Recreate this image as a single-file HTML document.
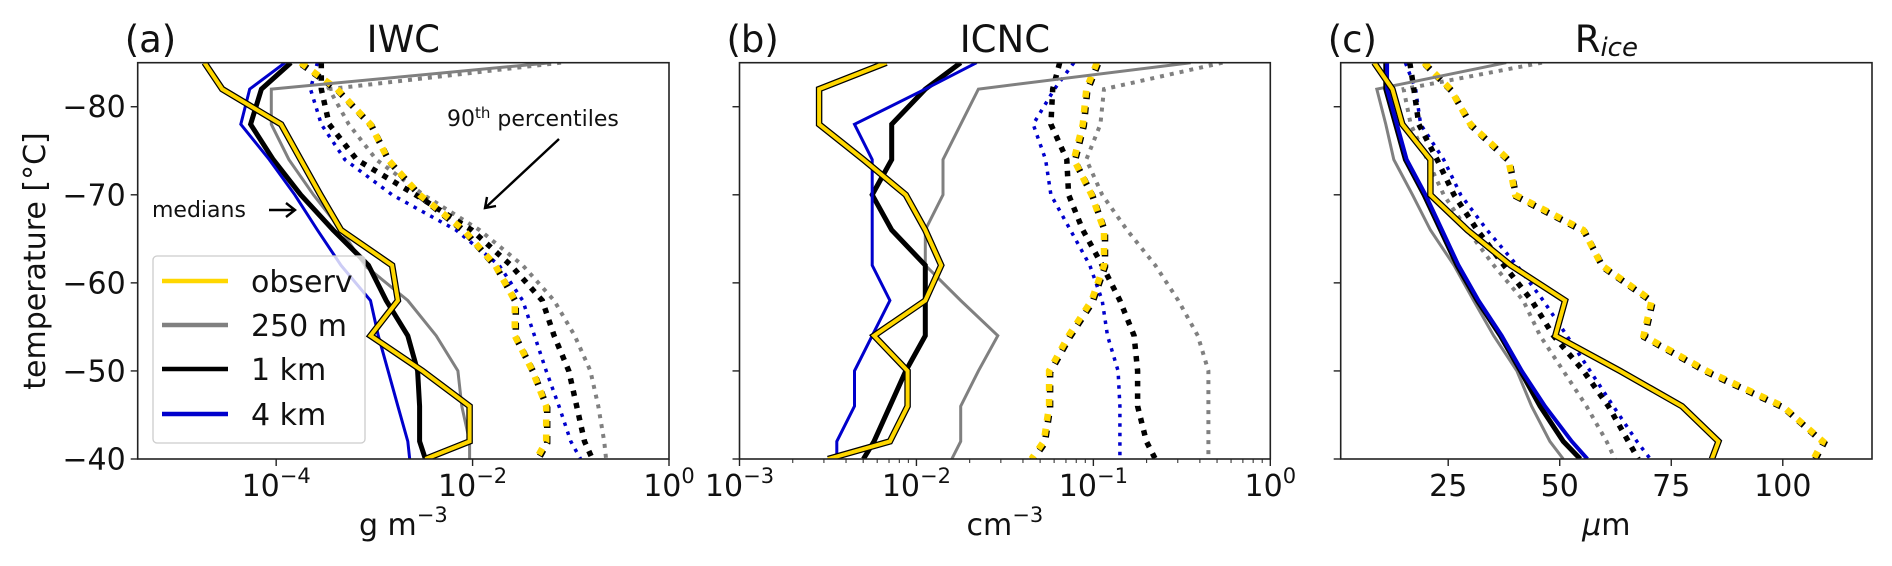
<!DOCTYPE html>
<html><head><meta charset="utf-8"><style>
html,body{margin:0;padding:0;background:#fff;}
svg{display:block;font-family:"DejaVu Sans","Liberation Sans",sans-serif;}
</style></head><body>
<svg id="fig" width="1892" height="566" viewBox="0 0 1892 566" xmlns="http://www.w3.org/2000/svg">
<g id="layer"></g>
</svg>
<script>
// Shared temperature levels (°C)
const temps = [-85,-82,-78,-74,-70,-66,-62,-58,-54,-50,-46,-42,-40];
const yTicks = [-80,-70,-60,-50,-40];
const seriesNames = ["observ","250 m","1 km","4 km"];

// (a) IWC, log10 g m-3 — medians
const iwcObs  = [-4.73,-4.55,-3.95,-3.75,-3.55,-3.34,-2.82,-2.76,-3.04,-2.51,-2.03,-2.03,-2.48];
const iwc250  = [-1.2,-4.05,-4.05,-3.87,-3.62,-3.34,-3.1,-2.66,-2.37,-2.15,-2.11,-2.03,-2.03];
const iwc1k   = [-3.85,-4.15,-4.26,-4.03,-3.75,-3.42,-3.06,-2.88,-2.66,-2.56,-2.54,-2.54,-2.48];
const iwc4k   = [-3.91,-4.27,-4.36,-4.07,-3.81,-3.58,-3.34,-3.04,-2.96,-2.86,-2.76,-2.66,-2.64];
// (a) 90th percentiles
const iwcObsP = [-3.75,-3.38,-3.04,-2.86,-2.54,-2.09,-1.77,-1.57,-1.57,-1.39,-1.25,-1.25,-1.35];
const iwc250P = [-1.1,-3.46,-3.26,-2.98,-2.5,-1.93,-1.49,-1.17,-0.96,-0.8,-0.72,-0.66,-0.64];
const iwc1kP  = [-3.54,-3.54,-3.46,-3.18,-2.58,-2.01,-1.61,-1.29,-1.17,-1.02,-0.94,-0.86,-0.78];
const iwc4kP  = [-3.58,-3.65,-3.54,-3.3,-2.82,-2.17,-1.73,-1.49,-1.37,-1.25,-1.12,-1.0,-0.9];

// (b) ICNC, log10 cm-3 — medians
const icncObs = [-2.17,-2.55,-2.55,-2.3,-2.06,-1.95,-1.86,-1.95,-2.24,-2.05,-2.05,-2.15,-2.5];
const icnc250 = [-0.45,-1.65,-1.75,-1.85,-1.85,-1.95,-1.95,-1.75,-1.54,-1.65,-1.75,-1.75,-1.8];
const icnc1k  = [-1.75,-1.95,-2.14,-2.14,-2.25,-2.14,-1.95,-1.95,-1.95,-2.06,-2.15,-2.24,-2.3];
const icnc4k  = [-1.66,-1.95,-2.35,-2.25,-2.25,-2.25,-2.25,-2.15,-2.25,-2.35,-2.35,-2.45,-2.45];
// (b) 90th percentiles
const icncObsP = [-0.98,-1.04,-1.06,-1.11,-1.01,-0.94,-0.94,-1.01,-1.14,-1.25,-1.25,-1.28,-1.35];
const icnc250P = [-0.27,-0.94,-0.96,-1.04,-0.95,-0.81,-0.65,-0.52,-0.41,-0.35,-0.35,-0.35,-0.35];
const icnc1kP  = [-1.19,-1.23,-1.24,-1.15,-1.14,-1.06,-0.95,-0.85,-0.77,-0.75,-0.75,-0.7,-0.65];
const icnc4kP  = [-1.11,-1.22,-1.34,-1.27,-1.24,-1.13,-1.02,-0.95,-0.92,-0.86,-0.85,-0.85,-0.85];

// (c) Rice, µm — medians
const rObs = [8.4,12.5,14.7,21,21,29.3,39,51.2,49,63.5,77.4,85.6,84.1];
const r250 = [38,9,11,12.8,17,21,26.3,30.7,35.2,40.4,43.7,47.8,50.8];
const r1k  = [11,11,13.2,15.4,19.6,23.3,27,31.5,36.7,41.2,45.6,50.8,54.6];
const r4k  = [11.3,11.3,13.5,15.7,19.9,23.6,27.3,31.8,37,41.5,46.7,52.7,56.2];
// (c) 90th percentiles
const rObsP = [19.6,25.5,30,38.5,40,55.3,59.4,70.6,68.8,83,100,109,106.9];
const r250P = [46,15,16.6,20.3,24,29.3,35.2,41.8,45.6,50.8,56,60.5,62.4];
const r1kP  = [16.4,17.3,18.4,22.5,26.3,31.5,37.5,43.7,48.6,55.3,60.9,65.4,67.6];
const r4kP  = [15.4,17.7,18.8,24,27.8,33.7,40.4,46.3,51.6,56.8,62,67.3,70.3];

const NS="http://www.w3.org/2000/svg";
const layer=document.getElementById('layer');
function mk(tag,attrs,parent){const e=document.createElementNS(NS,tag);for(const k in attrs)e.setAttribute(k,attrs[k]);(parent||layer).appendChild(e);return e;}

const TOP=62.7,BOT=459;
function yScale(t){return TOP+(t+85)/45*(BOT-TOP);}

const panels=[
 {key:'a',x0:137.7,x1:669,dmin:-5.41,dmax:0,log:true,title:'IWC',label:'(a)',
  med:[iwcObs,iwc250,iwc1k,iwc4k],p90:[iwcObsP,iwc250P,iwc1kP,iwc4kP],
  ticks:[-4,-2,0],minor:[]},
 {key:'b',x0:739.5,x1:1270.3,dmin:-3,dmax:0,log:true,title:'ICNC',label:'(b)',
  med:[icncObs,icnc250,icnc1k,icnc4k],p90:[icncObsP,icnc250P,icnc1kP,icnc4kP],
  ticks:[-3,-2,-1,0],minor:true},
 {key:'c',x0:1340.7,x1:1872,dmin:0.9,dmax:120,log:false,title:'R',label:'(c)',
  med:[rObs,r250,r1k,r4k],p90:[rObsP,r250P,r1kP,r4kP],
  ticks:[25,50,75,100],minor:[]}
];

panels.forEach(p=>{
  const xs=v=>p.x0+(v-p.dmin)/(p.dmax-p.dmin)*(p.x1-p.x0);
  const g=mk('g',{});
  
  
  const clipId='clip'+p.key;
  const cp=mk('clipPath',{id:clipId},g);
  mk('rect',{x:p.x0,y:TOP,width:p.x1-p.x0,height:BOT-TOP},cp);
  const plot=mk('g',{'clip-path':'url(#'+clipId+')'},g);
  
  
  function path(arr){return arr.map((v,i)=>(i?'L':'M')+xs(v).toFixed(1)+' '+yScale(temps[i]).toFixed(1)).join(' ');}
  const cols=['#ffd700','#808080','#000000','#0000cc'];
  const pStyles=[
    {w:6.5,dash:'7 8',c:'#ffd700',shadow:true},
    {w:4,dash:'4 6',c:'#808080'},
    {w:5.5,dash:'5.5 7',c:'#000000'},
    {w:3.5,dash:'3.5 6',c:'#0000cc'}];
  const order=[1,3,2,0];
  order.forEach(i=>{
    const s=pStyles[i];const d=path(p.p90[i]);
    if(s.shadow){const sh=mk('path',{d:d,fill:'none',stroke:'#000','stroke-width':s.w,'stroke-dasharray':s.dash,transform:'translate(1,1.5)'},plot);
      
      }
    const e=mk('path',{d:d,fill:'none',stroke:s.c,'stroke-width':s.w,'stroke-dasharray':s.dash},plot);
    
    
  });
  const mW=[4,3,5,p.key==='c'?4:3];
  [1,2,3,0].forEach(i=>{
    const d=path(p.med[i]);
    if(i===0){const o=mk('path',{d:d,fill:'none',stroke:'#000','stroke-width':6.5,'stroke-linejoin':'miter'},plot);
      
      }
    const e=mk('path',{d:d,fill:'none',stroke:cols[i],'stroke-width':mW[i],'stroke-linejoin':'miter'},plot);
    
    
  });
  const fr=mk('rect',{x:p.x0,y:TOP,width:p.x1-p.x0,height:BOT-TOP,fill:'none',stroke:'#222','stroke-width':1.6},g);
  
  
  yTicks.forEach(t=>{
    const y=yScale(t);
    const tk=mk('line',{x1:p.x0-7,x2:p.x0,y1:y,y2:y,stroke:'#222','stroke-width':1.4},g);
    
    
    if(p.key==='a'){
      const tl=mk('text',{x:p.x0-12,y:y+10.5,'text-anchor':'end','font-size':30,fill:'#111'},g);
      tl.textContent='\u2212'+Math.abs(t);
      
      
    }
  });
  p.ticks.forEach(t=>{
    const x=xs(t);
    const tk=mk('line',{x1:x,x2:x,y1:BOT,y2:BOT+7,stroke:'#222','stroke-width':1.4},g);
    
    
    const tl=mk('text',{x:x,y:BOT+37,'text-anchor':'middle','font-size':30,fill:'#111'},g);
    
    
    if(p.log){
      tl.textContent='10';
      const sp=mk('tspan',{'font-size':21,dy:-13},tl);
      sp.textContent=(t<0?'\u2212':'')+Math.abs(t);
    } else tl.textContent=String(t);
  });
  if(p.minor===true){
    for(let d=-3;d<0;d++){for(let k=2;k<=9;k++){
      const x=xs(d+Math.log10(k));
      const mt=mk('line',{x1:x,x2:x,y1:BOT,y2:BOT+4,stroke:'#222','stroke-width':1},g);
      
      
    }}
  }
  const cx=(p.x0+p.x1)/2;
  const tt=mk('text',{x:cx,y:52,'text-anchor':'middle','font-size':37,fill:'#111'},g);
  
  
  if(p.key==='c'){tt.textContent='R';const s=mk('tspan',{'font-size':26,'font-style':'oblique',dy:4},tt);s.textContent='ice';}
  else tt.textContent=p.title;
  const pl=mk('text',{x:p.x0-13,y:52,'font-size':37,fill:'#111'},g);
  pl.textContent=p.label;
  
  
  const xl=mk('text',{x:cx,y:535,'text-anchor':'middle','font-size':30,fill:'#111'},g);
  
  
  if(p.key==='a'){xl.textContent='g m';const s=mk('tspan',{'font-size':21,dy:-13},xl);s.textContent='\u22123';}
  else if(p.key==='b'){xl.textContent='cm';const s=mk('tspan',{'font-size':21,dy:-13},xl);s.textContent='\u22123';}
  else {const s=mk('tspan',{'font-style':'oblique'},xl);s.textContent='\u03bc';const s2=mk('tspan',{},xl);s2.textContent='m';}
});

const yt=mk('text',{x:0,y:0,'text-anchor':'middle','font-size':30,fill:'#111',transform:'translate(45,261) rotate(-90)'});
yt.textContent='temperature [°C]';



const lg=mk('g',{});


mk('rect',{x:153,y:256,width:212,height:187,rx:4,fill:'#fff','fill-opacity':0.8,stroke:'#ccc','stroke-width':1.3},lg);
const lgCols=['#ffd700','#808080','#000000','#0000cc'];
const lgY=[281,325,369,414];
seriesNames.forEach((n,i)=>{
  const l=mk('line',{x1:162,x2:228,y1:lgY[i],y2:lgY[i],stroke:lgCols[i],'stroke-width':4.5},lg);
  
  
  const t=mk('text',{x:251,y:lgY[i]+11,'font-size':30,fill:'#111'},lg);
  t.textContent=n;
  
  
});

const an=mk('g',{});


const mt=mk('text',{x:152,y:217,'font-size':22,fill:'#111'},an);
mt.textContent='medians';


const a1=mk('path',{d:'M269 210 L295 210 M286 203 L295 210 L286 217',fill:'none',stroke:'#000','stroke-width':2.4},an);


const pt=mk('text',{x:447,y:126,'font-size':22,fill:'#111'},an);
pt.textContent='90';
const sp=mk('tspan',{'font-size':15,dy:-8},pt);sp.textContent='th';
const sp2=mk('tspan',{dy:8},pt);sp2.textContent=' percentiles';


const a2=mk('path',{d:'M559 139 L485 208 M487 197 L485 208 L496 206',fill:'none',stroke:'#000','stroke-width':2.4},an);


</script>
</body></html>
